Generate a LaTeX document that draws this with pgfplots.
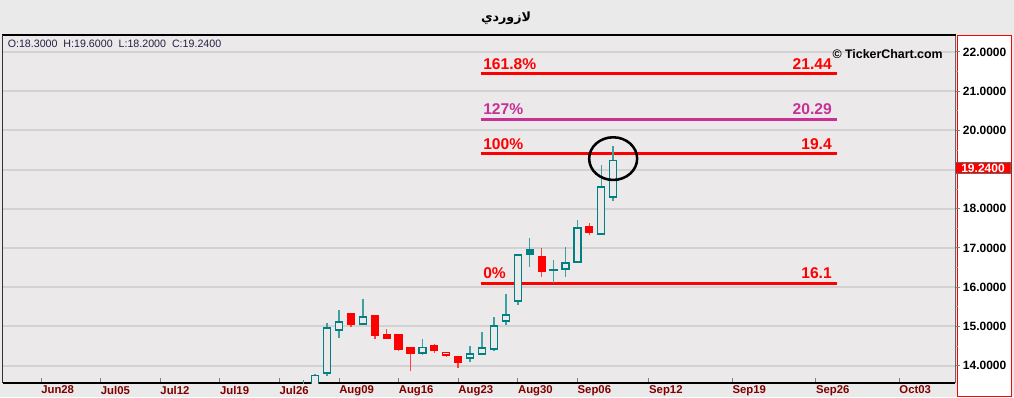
\documentclass[border=0pt]{standalone}
\usepackage{pgfplots}
\pgfplotsset{compat=1.18}
\usepackage{fontspec}
\setmainfont{Liberation Sans}
\newfontfamily\arabicfont[Script=Arabic]{DejaVu Sans}
\TeXXeTstate=1
\definecolor{outerbg}{RGB}{234,234,234}
\definecolor{plotbg}{RGB}{235,233,234}
\definecolor{tealc}{RGB}{0,128,128}
\definecolor{fibred}{RGB}{255,0,0}
\definecolor{fibmag}{RGB}{200,48,150}
\definecolor{gridc}{RGB}{210,210,210}
\definecolor{datec}{RGB}{128,0,0}
\definecolor{ohlcc}{RGB}{40,30,70}
\tikzset{
  upwick/.style={draw=tealc!75, line width=1.1pt},
  upbody/.style={draw=tealc, fill=plotbg, line width=1pt},
  ufwick/.style={draw=tealc!75, line width=1.1pt},
  ufbody/.style={draw=tealc, fill=tealc, line width=1pt},
  dnwick/.style={draw=red!75, line width=1.1pt},
  dnbody/.style={draw=red, fill=red, line width=1pt},
  dhwick/.style={draw=red!75, line width=1.1pt},
  dhbody/.style={draw=red, fill=plotbg, line width=1pt},
}
% k, Open, High, Low, Close, type
\newcommand{\candle}[6]{%
  \pgfmathsetmacro\xa{#1-0.29}\pgfmathsetmacro\xb{#1+0.29}%
  \addplot[#6wick] coordinates {(#1,#4) (#1,#3)};
  \addplot[#6body] coordinates {(\xa,#2) (\xb,#2) (\xb,#5) (\xa,#5)} -- cycle;
}
\begin{document}
\begin{tikzpicture}
\begin{scope}[x=0.75pt, y=0.75pt]
\useasboundingbox (0,0) rectangle (1014,397);
\fill[outerbg] (0,0) rectangle (1014,397);
% right price panel
\fill[white] (957,0) rectangle (1012,361.5);
\draw[red, line width=1.1pt] (957.6,0.75) rectangle (1011.4,361.5);
\end{scope}
\begin{axis}[
  at={(2.25pt,10.5pt)}, anchor=south west,
  scale only axis, width=714pt, height=260.25pt,
  xmin=-28.19, xmax=51.68, ymin=13.556, ymax=22.408,
  axis background/.style={fill=plotbg},
  axis x line*=bottom, axis y line*=right,
  x axis line style={draw=black, line width=1.1pt, -},
  y axis line style={draw=black!60, line width=0.75pt, -},
  xtick={-25,-20,-15,-10,-5,0,5,10,15,20,26,33,40,47},
  xticklabels={Jun28,Jul05,Jul12,Jul19,Jul26,Aug09,Aug16,Aug23,Aug30,Sep06,Sep12,Sep19,Sep26,Oct03},
  xtick align=inside,
  ytick={14,15,16,17,18,19,20,21,22},
  yticklabels={14.0000,15.0000,16.0000,17.0000,18.0000,19.0000,20.0000,21.0000,22.0000},
  minor y tick num=1,
  ytick align=outside,
  ymajorgrids, grid style={gridc, line width=1.5pt},
  major tick length=3.75pt, minor tick length=2.5pt,
  tick style={gray, line width=0.75pt},
  minor tick style={gray!70, line width=0.6pt},
  xticklabel style={anchor=north west, inner sep=0pt, yshift=-2pt, font=\bfseries\fontsize{8.5}{9}\selectfont, text=datec},
  yticklabel style={anchor=west, inner sep=0pt, xshift=2pt, font=\bfseries\fontsize{9}{9}\selectfont},
]
% Fibonacci levels
\addplot[fibred, line width=2.25pt] coordinates {(11.91,21.44) (41.74,21.44)};
\addplot[fibmag, line width=2.25pt] coordinates {(11.91,20.29) (41.74,20.29)};
\addplot[fibred, line width=2.25pt] coordinates {(11.91,19.4) (41.74,19.4)};
\addplot[fibred, line width=2.25pt] coordinates {(11.91,16.1) (41.74,16.1)};
% candles
\candle{-3}{13.20}{13.64}{13.10}{13.45}{up}
\candle{-2}{13.45}{13.78}{13.35}{13.74}{up}
\candle{-1}{13.81}{15.09}{13.73}{14.96}{up}
\candle{0}{14.91}{15.42}{14.70}{15.11}{up}
\candle{1}{15.32}{15.33}{14.98}{15.06}{dn}
\candle{2}{15.06}{15.70}{15.05}{15.24}{up}
\candle{3}{15.27}{15.28}{14.68}{14.76}{dn}
\candle{4}{14.78}{14.93}{14.68}{14.70}{dn}
\candle{5}{14.78}{14.80}{14.37}{14.42}{dn}
\candle{6}{14.45}{14.46}{13.86}{14.32}{dn}
\candle{7}{14.32}{14.68}{14.27}{14.47}{up}
\candle{8}{14.50}{14.55}{14.32}{14.40}{dn}
\candle{9}{14.27}{14.35}{14.22}{14.33}{dh}
\candle{10}{14.22}{14.23}{13.94}{14.09}{dn}
\candle{11}{14.19}{14.50}{14.09}{14.30}{up}
\candle{12}{14.30}{14.86}{14.30}{14.45}{up}
\candle{13}{14.42}{15.24}{14.37}{15.01}{up}
\candle{14}{15.14}{15.83}{15.04}{15.29}{up}
\candle{15}{15.65}{16.83}{15.55}{16.82}{up}
\candle{16}{16.97}{17.26}{16.52}{16.84}{uf}
\candle{17}{16.77}{17.00}{16.26}{16.41}{dn}
\candle{18}{16.43}{16.69}{16.11}{16.45}{up}
\candle{19}{16.46}{17.03}{16.26}{16.62}{up}
\candle{20}{16.64}{17.71}{16.62}{17.51}{up}
\candle{21}{17.54}{17.64}{17.33}{17.41}{dn}
\candle{22}{17.36}{19.12}{17.35}{18.56}{up}
\candle{23}{18.30}{19.60}{18.20}{19.24}{up}
% labels of the levels
\node[anchor=base west, inner sep=0pt, text=fibred, font=\bfseries\fontsize{11.7}{12}\selectfont] at ([yshift=3.6pt]axis cs:12.08,21.44) {161.8\%};
\node[anchor=base east, inner sep=0pt, text=fibred, font=\bfseries\fontsize{11.7}{12}\selectfont] at ([yshift=3.6pt]axis cs:41.36,21.44) {21.44};
\node[anchor=base west, inner sep=0pt, text=fibmag, font=\bfseries\fontsize{11.7}{12}\selectfont] at ([yshift=3.6pt]axis cs:12.08,20.29) {127\%};
\node[anchor=base east, inner sep=0pt, text=fibmag, font=\bfseries\fontsize{11.7}{12}\selectfont] at ([yshift=3.6pt]axis cs:41.36,20.29) {20.29};
\node[anchor=base west, inner sep=0pt, text=fibred, font=\bfseries\fontsize{11.7}{12}\selectfont] at ([yshift=3.6pt]axis cs:12.08,19.4) {100\%};
\node[anchor=base east, inner sep=0pt, text=fibred, font=\bfseries\fontsize{11.7}{12}\selectfont] at ([yshift=3.6pt]axis cs:41.36,19.4) {19.4};
\node[anchor=base west, inner sep=0pt, text=fibred, font=\bfseries\fontsize{11.7}{12}\selectfont] at ([yshift=3.6pt]axis cs:12.08,16.1) {0\%};
\node[anchor=base east, inner sep=0pt, text=fibred, font=\bfseries\fontsize{11.7}{12}\selectfont] at ([yshift=3.6pt]axis cs:41.36,16.1) {16.1};
% highlight ellipse
\draw[black, line width=1.9pt] (axis cs:23,19.28) ellipse [x radius=18pt, y radius=16pt];
\end{axis}
\begin{scope}[x=0.75pt, y=0.75pt]
% frame lines
\draw[black, line width=1.5pt] (2,361.5) -- (956,361.5);
\draw[black!80, line width=0.75pt] (2.5,14) -- (2.5,361.5);
% current price marker
\node[fill=red, draw=black!60, line width=0.6pt, inner sep=0pt, minimum width=41pt, minimum height=8.8pt, text=white, font=\bfseries\fontsize{9}{9}\selectfont] at (983,229) {19.2400};
% title and texts
\node[font=\arabicfont\bfseries\fontsize{9.5}{10}\selectfont] at (506,379) {\beginR لازوردي\endR};
\node[anchor=base west, inner sep=0pt, text=ohlcc, font=\fontsize{8}{8}\selectfont] at (7.5,349.5) {O:18.3000\ \ H:19.6000\ \ L:18.2000\ \ C:19.2400};
\node[anchor=base east, inner sep=0pt, font=\bfseries\fontsize{9.3}{10}\selectfont] at (943,338.5) {© TickerChart.com};
\end{scope}
\end{tikzpicture}
\end{document}
